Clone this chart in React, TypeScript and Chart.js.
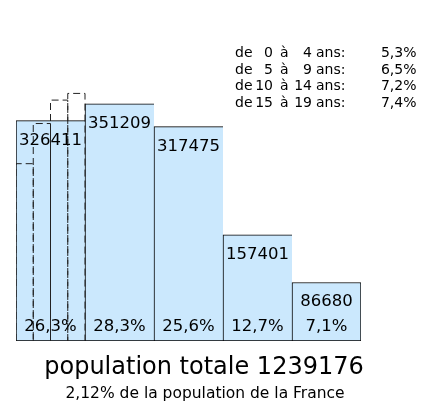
import React, { useEffect, useRef } from "react";
import { Chart, registerables } from "chart.js";

Chart.register(...registerables);

// ---- data ----
const ageGroups = ["0-19 ans", "20-39 ans", "40-59 ans", "60-74 ans", "75 ans et +"];
const populationValues = [326411, 351209, 317475, 157401, 86680];
const populationPct = [26.3, 28.3, 25.6, 12.7, 7.1];
const subGroupFrom = [0, 5, 10, 15];
const subGroupTo = [4, 9, 14, 19];
const subGroupPct = [5.3, 6.5, 7.2, 7.4];
const totalPopulation = 1239176;
const shareOfFrance = 2.12;
const yMax = 400000;

const FONT = "'DejaVu Sans', Verdana, sans-serif";
const fmt = (n: number, d: number) => n.toFixed(d).replace(".", ",");

export default function App() {
  const ref = useRef<HTMLCanvasElement | null>(null);

  useEffect(() => {
    const canvas = ref.current;
    if (!canvas) return;
    const n = subGroupPct.length;
    // dashed bars: 5-year groups shown at the same density scale (x4) as 20-year groups
    const dashedDatasets = subGroupPct.map((p, j) => {
      const v = (p / 100) * totalPopulation * n;
      const x0 = j / n;
      const x1 = (j + 1) / n;
      return {
        type: "line" as const,
        label: `de ${subGroupFrom[j]} à ${subGroupTo[j]} ans`,
        xAxisID: "x2",
        data: [
          { x: x0, y: 0 },
          { x: x0, y: v },
          { x: x1, y: v },
          { x: x1, y: 0 },
        ],
        borderColor: "#222",
        borderWidth: 1,
        borderDash: [7, 4],
        pointRadius: 0,
        fill: false,
        tension: 0,
        order: 0,
      };
    });

    const last = populationValues.length - 1;

    const textPlugin = {
      id: "texts",
      afterDatasetsDraw(chart: any) {
        const ctx = chart.ctx;
        const meta = chart.getDatasetMeta(0);
        const base = chart.scales.y.getPixelForValue(0);
        ctx.save();
        ctx.fillStyle = "#000";
        ctx.font = `16.5px ${FONT}`;
        ctx.textAlign = "center";
        ctx.textBaseline = "alphabetic";
        meta.data.forEach((el: any, i: number) => {
          ctx.fillText(String(populationValues[i]), el.x, el.y + 24);
          ctx.fillText(fmt(populationPct[i], 1) + "%", el.x, base - 10);
        });
        ctx.restore();
      },
      afterDraw(chart: any) {
        const ctx = chart.ctx;
        ctx.save();
        ctx.fillStyle = "#000";
        ctx.textBaseline = "alphabetic";
        // legend of the 5-year groups
        ctx.font = `14px ${FONT}`;
        subGroupPct.forEach((p, j) => {
          const y = 57 + j * 16.5;
          ctx.textAlign = "left";
          ctx.fillText("de", 235, y);
          ctx.textAlign = "right";
          ctx.fillText(String(subGroupFrom[j]), 273, y);
          ctx.textAlign = "left";
          ctx.fillText("à", 280, y);
          ctx.textAlign = "right";
          ctx.fillText(String(subGroupTo[j]), 312, y);
          ctx.textAlign = "left";
          ctx.fillText("ans:", 316, y);
          ctx.textAlign = "right";
          ctx.fillText(fmt(p, 1) + "%", 416.5, y);
        });
        // titles
        ctx.textAlign = "center";
        ctx.font = `24px ${FONT}`;
        ctx.fillText(`population totale ${totalPopulation}`, 204, 374);
        ctx.font = `15.5px ${FONT}`;
        ctx.fillText(`${fmt(shareOfFrance, 2)}% de la population de la France`, 205, 398);
        ctx.restore();
      },
    };

    const chart = new Chart(canvas, {
      type: "bar",
      data: {
        labels: ageGroups,
        datasets: [
          {
            type: "bar" as const,
            label: "population",
            data: populationValues,
            backgroundColor: "#cbe8fd",
            borderColor: "#000",
            borderWidth: (c: any) => ({
              top: 1,
              left: 1,
              bottom: 1,
              right: c.dataIndex === last ? 1 : 0,
            }),
            borderSkipped: false,
            grouped: false,
            categoryPercentage: 1,
            barPercentage: 1,
            order: 1,
          } as any,
          ...dashedDatasets,
        ],
      },
      options: {
        animation: false,
        responsive: false,
        devicePixelRatio: 1,
        layout: { padding: { left: 16, right: 73, top: 71, bottom: 64 } },
        plugins: {
          legend: { display: false },
          tooltip: { enabled: false },
          title: { display: false },
        },
        scales: {
          x: { type: "category", display: false, offset: true },
          x2: { type: "linear", display: false, offset: false, min: 0, max: populationValues.length },
          y: { type: "linear", display: false, min: 0, max: yMax },
        },
      } as any,
      plugins: [textPlugin],
    });
    return () => chart.destroy();
  }, []);

  return (
    <div style={{ position: "fixed", left: 0, top: 0, width: 434, height: 405, background: "#fff" }}>
      <canvas ref={ref} width={434} height={405} style={{ display: "block", width: 434, height: 405 }} />
    </div>
  );
}
